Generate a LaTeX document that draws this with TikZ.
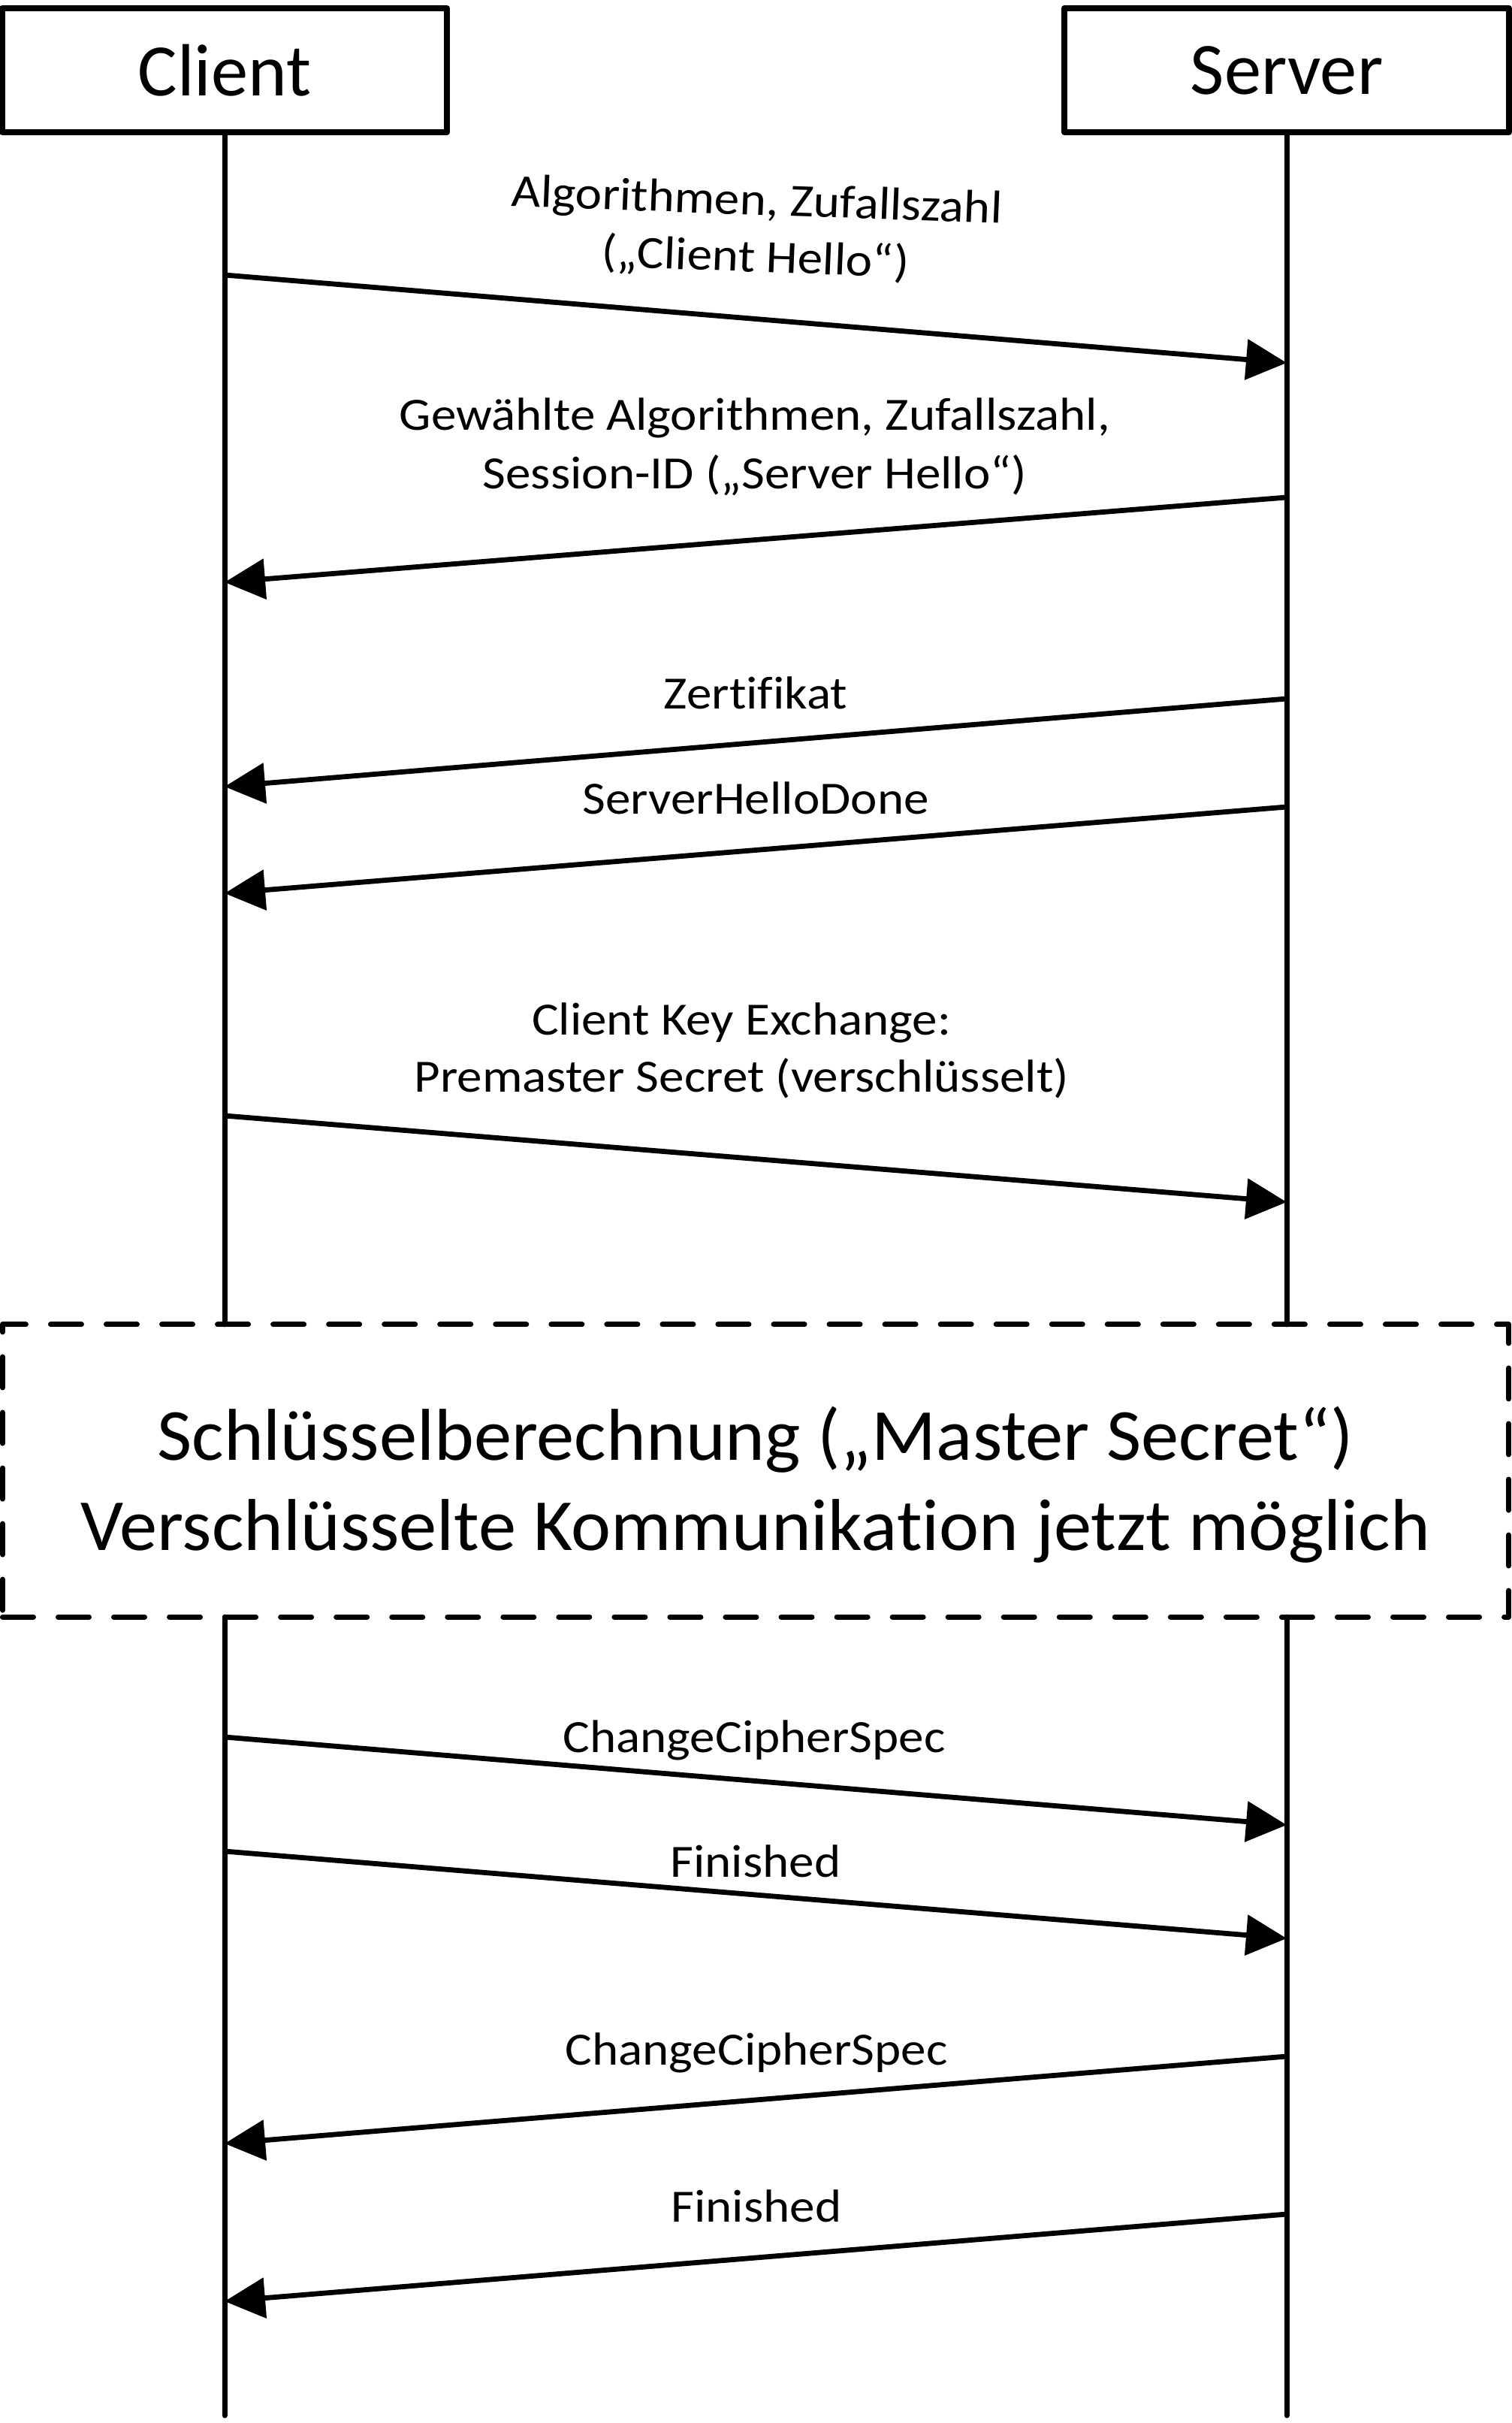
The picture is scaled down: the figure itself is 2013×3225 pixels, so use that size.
\documentclass[tikz,border=0pt]{standalone}
\usepackage{fontspec}
\setmainfont{Carlito}[Ligatures=NoCommon]
\usetikzlibrary{arrows.meta}
\begin{document}
\begin{tikzpicture}[x=0.01cm,y=-0.01cm,
  every node/.style={inner sep=0pt, outer sep=0pt},
  party/.style={draw, line width=0.075cm, line join=round, minimum width=5.92cm, minimum height=1.65cm,
    font=\fontsize{28pt}{33.9pt}\selectfont},
  lbl/.style={anchor=base, xscale=1.09, font=\fontsize{17.5pt}{21.9pt}\selectfont},
  lblbg/.style={lbl, fill=white, text depth=0.3em},
  bigtxt/.style={anchor=base, xscale=1.028, font=\fontsize{27.8pt}{33.9pt}\selectfont},
  life/.style={line width=0.07cm, line cap=round},
  msg/.style={line width=0.068cm, -{Triangle[length=0.54cm,width=0.53cm]}},
  phase/.style={draw, line width=0.07cm, line cap=round, line join=round,
    dash pattern=on 0.41cm off 0.33cm, minimum width=20.04cm, minimum height=3.89cm}
]
\useasboundingbox (0,0) rectangle (2013,3225);

% participants
\node[party] (client) at (299,93.5) {Client};
\node[party] (server) at (1713,93.5) {Server};

% key computation box
\node[phase] (calc) at (1006,1957.5) {};
\node[bigtxt] (calc1) at (1006,1943) {Schlüsselberechnung („Master Secret“)};
\node[bigtxt] (calc2) at (1006,2063) {Verschlüsselte Kommunikation jetzt möglich};

% lifeline ends
\coordinate (cend) at (299,3215);
\coordinate (send) at (1713,3215);

% lifelines
\draw[life] (client.south) -- (client.south |- calc.north);
\draw[life] (client.south |- calc.south) -- (cend);
\draw[life] (server.south) -- (server.south |- calc.north);
\draw[life] (server.south |- calc.south) -- (send);

% message end points
\coordinate (c1) at (299,366);  \coordinate (s1) at (1713,483);
\coordinate (s2) at (1713,662); \coordinate (c2) at (299,775);
\coordinate (s3) at (1713,930); \coordinate (c3) at (299,1047);
\coordinate (s4) at (1713,1074);\coordinate (c4) at (299,1189);
\coordinate (c5) at (299,1485); \coordinate (s5) at (1713,1600);
\coordinate (c6) at (299,2312); \coordinate (s6) at (1713,2429);
\coordinate (c7) at (299,2464); \coordinate (s7) at (1713,2580);
\coordinate (s8) at (1713,2737);\coordinate (c8) at (299,2853);
\coordinate (s9) at (1713,2947);\coordinate (c9) at (299,3063);

% messages
\draw[msg] (c1) -- (s1);
\draw[msg] (s2) -- (c2);
\draw[msg] (s3) -- (c3);
\draw[msg] (s4) -- (c4);
\draw[msg] (c5) -- (s5);
\draw[msg] (c6) -- (s6);
\draw[msg] (c7) -- (s7);
\draw[msg] (s8) -- (c8);
\draw[msg] (s9) -- (c9);

% labels
\node[lbl, rotate=-2.2] (l1a) at (1007,286) {Algorithmen, Zufallszahl};
\node[lbl, rotate=-2.2] (l1b) at (1005,362) {(„Client Hello“)};
\node[lbl] (l2a) at (1005,573) {Gewählte Algorithmen, Zufallszahl,};
\node[lbl] (l2b) at (1005,651) {Session-ID („Server Hello“)};
\node[lbl] (l3) at (1006,943) {Zertifikat};
\node[lbl] (l4) at (1006,1083) {ServerHelloDone};
\node[lbl] (l5a) at (987,1377) {Client Key Exchange:};
\node[lbl] (l5b) at (987,1453) {Premaster Secret (verschlüsselt)};
\node[lblbg] (l6) at (1004,2332) {ChangeCipherSpec};
\node[lblbg] (l7) at (1006,2498) {Finished};
\node[lbl] (l8) at (1007,2748) {ChangeCipherSpec};
\node[lbl] (l9) at (1007,2957) {Finished};
\end{tikzpicture}
\end{document}
